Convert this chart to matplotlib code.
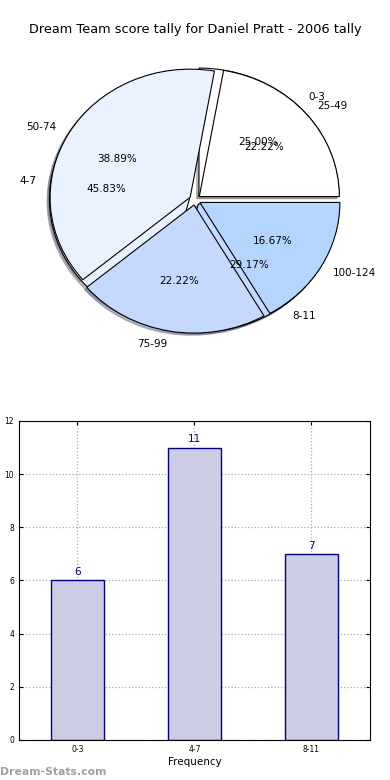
import matplotlib
matplotlib.use('Agg')
import matplotlib.pyplot as plt
import numpy as np

# data
freq_labels = ['0-3', '4-7', '8-11']
freq_counts = [6, 11, 7]
score_labels = ['25-49', '50-74', '75-99', '100-124']
score_counts = [4, 7, 4, 3]
pie_colors = ['#ffffff', '#eaf1ff', '#c5d8ff', '#b3d5ff']

fig = plt.figure(figsize=(3.9, 7.8), dpi=100)
fig.text(0.5, 1 - 30 / 780., 'Dream Team score tally for Daniel Pratt - 2006 tally',
         ha='center', va='center', fontsize=9.3)

# pie: two pies drawn on top of each other
shadow = {'ox': -0.012, 'oy': -0.012, 'shade': 0.5}
ax1 = fig.add_axes([0.105, 0.563, 0.79, 0.3615])
ax1.pie(freq_counts, labels=freq_labels, colors=pie_colors[:3], explode=[0.04] * 3,
        autopct='%1.2f%%', shadow=shadow, startangle=0,
        wedgeprops={'edgecolor': 'black', 'linewidth': 0.8},
        textprops={'fontsize': 7.5})
ax1.pie(score_counts, labels=score_labels, colors=pie_colors, explode=[0.04] * 4,
        autopct='%1.2f%%', shadow=shadow, startangle=0,
        wedgeprops={'edgecolor': 'black', 'linewidth': 0.8},
        textprops={'fontsize': 7.5})
ax1.set_aspect('auto')
ax1.set_xlim(-1.1, 1.1)
ax1.set_ylim(-1.1, 1.1)

# bar chart
ax2 = fig.add_axes([0.0487, 0.0513, 0.9, 0.409])
x = np.arange(len(freq_labels))
bars = ax2.bar(x, freq_counts, width=0.45, color='#ccccE4', edgecolor='#000080',
               linewidth=1.0, zorder=2)
for xi, c in zip(x, freq_counts):
    ax2.text(xi, c + 0.12, str(c), ha='center', va='bottom', color='#000080', fontsize=7.5)
ax2.set_xlim(-0.5, 2.5)
ax2.set_ylim(0, 12)
ax2.set_yticks(range(0, 13, 2))
ax2.set_xticks(x)
ax2.set_xticklabels(freq_labels)
ax2.tick_params(labelsize=5.5, direction='in', top=True, right=True, length=3)
ax2.grid(True, linestyle=':', color='#aaaaaa', linewidth=0.9, zorder=0)
ax2.set_axisbelow(True)
ax2.set_xlabel('Frequency', fontsize=7.5, labelpad=2)
ax2.set_ylabel('Occurrences', fontsize=7.5)
ax2.yaxis.set_label_coords(-0.05, 0.5)

fig.text(0.0, 3 / 780., 'Dream-Stats.com', color='#a0a0a0', fontsize=7.8,
         fontweight='bold', ha='left', va='bottom')

plt.savefig('out.png', dpi=100)
